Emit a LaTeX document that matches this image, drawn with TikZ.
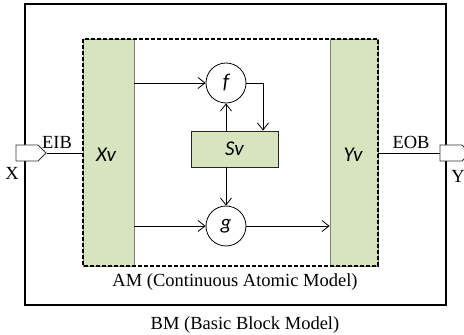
\documentclass[tikz,border=0pt]{standalone}
\usepackage{fontspec}
\setmainfont{Liberation Serif}
\newfontfamily\calib{Carlito}
\usetikzlibrary{arrows.meta,shapes.symbols}
\definecolor{lgreen}{RGB}{215,228,189}
\definecolor{edgegray}{RGB}{127,127,127}
\tikzset{
  x=1pt,y=1pt,
  lbl/.style={font=\fontsize{18.5}{18.5}\selectfont, inner sep=0pt},
  vlbl/.style={font=\fontsize{21}{21}\selectfont\calib\itshape, inner sep=0pt},
  vecbox/.style={draw=edgegray, fill=lgreen, line width=0.8pt, inner sep=0pt},
  fnode/.style={circle, draw=black, fill=white, line width=0.8pt, minimum size=40pt, inner sep=0pt, font=\fontsize{21}{21}\selectfont\calib\itshape},
  port/.style={signal, signal to=east, draw=black!80, fill=white, line width=0.8pt, minimum width=30pt, minimum height=16pt, inner sep=0pt},
  conn/.style={line width=0.8pt, -{Straight Barb[length=7pt,width=11pt,line width=0.8pt]}},
  plain/.style={line width=0.8pt},
}
\begin{document}
\begin{tikzpicture}
\useasboundingbox (0,0) rectangle (464,335);
% outer BM box
\draw[line width=1.6pt] (25,331) rectangle (446,30);
% vector boxes
\node[vecbox, minimum width=51pt, minimum height=227pt] (xv) at (108.5,182.5) {};
\node[vecbox, minimum width=48pt, minimum height=227pt] (yv) at (354,182.5) {};
\node[vlbl] at (106,180) {Xv};
\node[vlbl] at (353,180) {Yv};
% AM dashed box
\draw[line width=1.6pt, dash pattern=on 4pt off 2pt] (83,296) rectangle (378,69);
% f, g, Sv
\node[fnode] (f) at (226,252) {f};
\node[fnode] (g) at (226,109) {g};
\node[draw=black!85, fill=lgreen, line width=0.8pt, minimum width=87pt, minimum height=36pt, inner sep=0pt, font=\fontsize{21}{21}\selectfont\calib\itshape] (sv) at (234.5,186) {Sv};
% connectors
\draw[conn] (xv.east |- f.west) -- (f.west);
\draw[conn] (xv.east |- g.west) -- (g.west);
\draw[conn] (g.east) -- (yv.west |- g.east);
\coordinate (fc) at (263,252);
\draw[conn] (f.east) -- (fc) -- (fc |- sv.north);
\draw[conn] (sv.north -| f.south) -- (f.south);
\draw[conn] (sv.south -| g.north) -- (g.north);
% ports
\node[port] (px) at (27,182) {};
\node[port] (py) at (451,182) {};
\draw[plain] (px.east) -- (xv.west |- px.east);
\draw[plain] (yv.east |- py.west) -- (py.west);
% labels
\node[lbl] at (57,193) {EIB};
\node[lbl] at (411,193) {EOB};
\node[lbl] at (12,162) {X};
\node[lbl] at (458,159) {Y};
\node[lbl] at (235,53) {AM (Continuous Atomic Model)};
\node[lbl] at (245,10) {BM (Basic Block Model)};
\end{tikzpicture}
\end{document}
